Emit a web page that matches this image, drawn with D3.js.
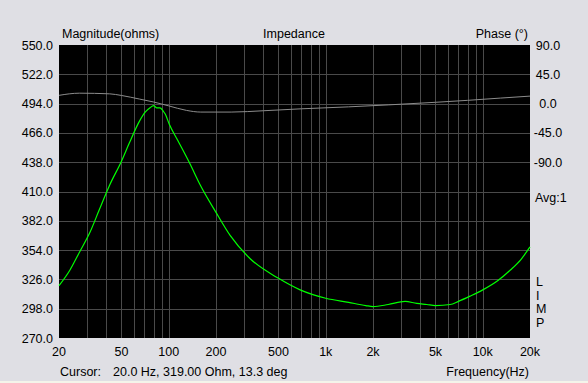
<!DOCTYPE html>
<html>
<head>
<meta charset="utf-8">
<script src="https://cdn.jsdelivr.net/npm/d3@7"></script>
<style>
  body { margin: 0; background: #dfdfe4; }
  svg { display: block; }
  text { font-family: "Liberation Sans", Arial, sans-serif; font-size: 12.5px; fill: #000; }
</style>
</head>
<body>
<svg id="chart" width="588" height="383"></svg>
<script>
// impedance sweep
const freqs = [20, 23.5, 27, 31.5, 36, 42, 50, 56, 65, 71, 76, 80, 84, 88, 92, 95, 101, 114, 136, 159, 200, 246, 329, 500, 687, 1000, 1400, 1800, 2000, 2500, 3200, 3800, 4400, 5000, 6200, 7000, 8300, 10000, 12500, 15000, 17500, 20000];
const magnitude = [320, 335, 352, 371, 392, 416, 439, 456, 477, 486, 490, 492, 490, 490, 487, 484, 474, 459, 437, 416, 390, 368, 346, 327, 316, 308, 304, 301, 300, 302, 305, 303, 302, 301, 302, 305, 310, 316, 325, 335, 345, 357];
const phaseFreqs = [20, 27, 42, 50, 65, 80, 100, 130, 160, 250, 400, 700, 1400, 2500, 5000, 8000, 13000, 20000];
const phase = [12.7, 16, 15, 12.5, 7, 2.5, -3.5, -10.5, -13, -13, -11, -8, -5, -2, 2, 5, 8.5, 11.5];

const magTicks = [550, 522, 494, 466, 438, 410, 382, 354, 326, 298, 270];
const phaseTicks = [90, 45, 0, -45, -90];
const freqTicks = [20, 50, 100, 200, 500, 1000, 2000, 5000, 10000, 20000];
const freqLabels = ["20", "50", "100", "200", "500", "1k", "2k", "5k", "10k", "20k"];

const svg = d3.select("#chart");
const plotL = 59, plotR = 530, plotT = 45, plotB = 338;

const x = d3.scaleLog().domain([20, 20000]).range([plotL, plotR]);
const y = d3.scaleLinear().domain([270, 550]).range([plotB, plotT]);
const yPhase = d3.scaleLinear().domain([-360, 90]).range([plotB, plotT]);

svg.append("rect")
  .attr("x", plotL).attr("y", plotT)
  .attr("width", plotR - plotL).attr("height", plotB - plotT)
  .attr("fill", "#000");

// vertical grid: every 1..9 step in each decade
const vgrid = [];
for (let d = 10; d <= 10000; d *= 10) {
  for (let k = 1; k <= 9; k++) {
    const f = d * k;
    if (f > 20 && f < 20000) vgrid.push(f);
  }
}
svg.append("g").selectAll("line").data(vgrid)
  .join("line")
  .attr("x1", d => Math.round(x(d)) + 0.5).attr("x2", d => Math.round(x(d)) + 0.5)
  .attr("y1", plotT).attr("y2", plotB)
  .attr("stroke", "#4a4a4a").attr("stroke-width", 1);

svg.append("g").selectAll("line").data(magTicks.slice(1, -1))
  .join("line")
  .attr("x1", plotL).attr("x2", plotR)
  .attr("y1", d => Math.round(y(d)) + 0.5).attr("y2", d => Math.round(y(d)) + 0.5)
  .attr("stroke", "#4a4a4a").attr("stroke-width", 1);

// phase (gray)
svg.append("path")
  .datum(d3.zip(phaseFreqs, phase))
  .attr("d", d3.line().x(d => x(d[0])).y(d => yPhase(d[1])).curve(d3.curveMonotoneX))
  .attr("fill", "none").attr("stroke", "#8c8c8c").attr("stroke-width", 1);

// magnitude (green)
svg.append("path")
  .datum(d3.zip(freqs, magnitude))
  .attr("d", d3.line().x(d => x(d[0])).y(d => y(d[1])).curve(d3.curveMonotoneX))
  .attr("fill", "none").attr("stroke", "#00ff00").attr("stroke-width", 1.2);

// left axis labels
svg.append("g").selectAll("text").data(magTicks)
  .join("text")
  .attr("x", 53).attr("y", d => y(d) + 4.5)
  .attr("text-anchor", "end")
  .text(d => d.toFixed(1));

// right axis labels
svg.append("g").selectAll("text").data(phaseTicks)
  .join("text")
  .attr("x", 548).attr("y", d => yPhase(d) + 4.5)
  .attr("text-anchor", "middle")
  .text(d => d.toFixed(1));

// frequency labels
svg.append("g").selectAll("text").data(freqTicks)
  .join("text")
  .attr("x", d => x(d)).attr("y", 356)
  .attr("text-anchor", "middle")
  .text((d, i) => freqLabels[i]);

svg.append("text").attr("x", 62).attr("y", 38).text("Magnitude(ohms)");
svg.append("text").attr("x", 294).attr("y", 38).attr("text-anchor", "middle").text("Impedance");
svg.append("text").attr("x", 528).attr("y", 38).attr("text-anchor", "end").text("Phase (°)");
svg.append("text").attr("x", 535).attr("y", 202).text("Avg:1");
svg.append("g").selectAll("text").data(["L", "I", "M", "P"])
  .join("text")
  .attr("x", 536).attr("y", (d, i) => 286 + i * 13.7)
  .text(d => d);

svg.append("text").attr("x", 60).attr("y", 376).text("Cursor:");
svg.append("text").attr("x", 113).attr("y", 376).text("20.0 Hz, 319.00 Ohm, 13.3 deg");
svg.append("text").attr("x", 529).attr("y", 376).attr("text-anchor", "end").text("Frequency(Hz)");

svg.append("rect").attr("x", 0).attr("y", 381).attr("width", 588).attr("height", 2).attr("fill", "#f4f4ea");
</script>
</body>
</html>
